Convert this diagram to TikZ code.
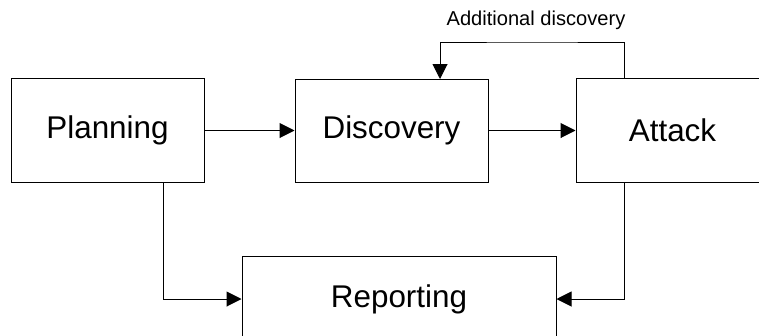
\documentclass[tikz,border=0pt]{standalone}
\usepackage{fontspec}
\setmainfont{Liberation Sans}
\usetikzlibrary{arrows.meta}

\begin{document}
\begin{tikzpicture}[x=1pt,y=-1pt,line width=1pt,
  stage/.style={draw,fill=white,inner sep=0pt,minimum width=193pt,minimum height=104pt,
    font=\fontsize{31.4}{36}\selectfont},
  flow/.style={-{Triangle[length=15pt,width=15pt]}}]
  \useasboundingbox (0,0) rectangle (759,335);

  % Stages
  \node[stage] (plan) at (107.5,130) {Planning};
  \node[stage,minimum height=103pt] (disc) at (391.5,130.5) {Discovery};
  \node[stage] (att) at (672.5,130) {Attack};
  \node[stage,minimum width=314pt,minimum height=86pt] (rep) at (399,299) {Reporting};

  % Main flow
  \draw[flow] (plan.east |- disc.west) -- (disc.west);
  \draw[flow] (disc.east) -- (att.west |- disc.east);

  % Feedback loop
  \coordinate (fbout) at (624,78);
  \coordinate (fbin) at (440,79);
  \coordinate (fbtop) at (532,42);
  \draw[flow] (fbout) |- (fbtop) -| (fbin);
  \node[font=\fontsize{20.1}{24}\selectfont] (fblabel) at (536,20) {Additional discovery};

  % To reporting
  \coordinate (planout) at (163,182);
  \coordinate (attout) at (624,182);
  \draw[flow] (planout) |- (rep.west);
  \draw[flow] (attout) |- (rep.east);
\end{tikzpicture}
\end{document}
